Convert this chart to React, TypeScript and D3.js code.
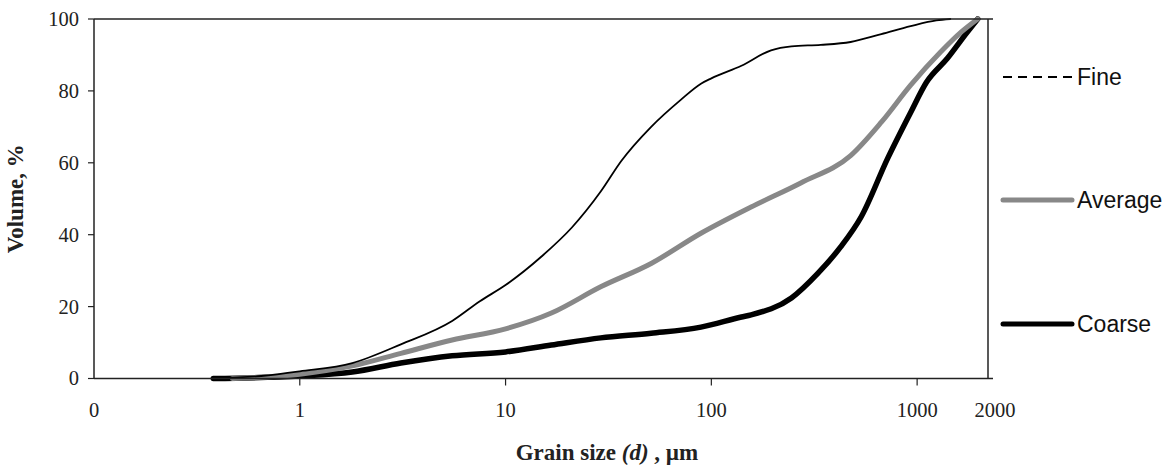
import * as d3 from 'd3';

// Grain size distribution curves (cumulative volume %)
const FINE_SIZE = [0.38, 0.65, 1, 1.8, 3.1, 5.5, 7.5, 10, 15, 21, 29, 36.5, 51, 71, 89, 100, 140, 195, 245, 340, 475, 670, 930, 1240, 1450];
const FINE_VOL = [0, 0.7, 2, 4.3, 9.5, 16, 21.5, 26, 34, 42, 52, 60.5, 70, 77.5, 82, 83.5, 87, 91.3, 92.4, 92.8, 93.6, 95.8, 98, 99.6, 100];

const AVG_SIZE = [0.47, 1, 1.8, 3.1, 5.5, 10, 16.7, 29, 51, 89, 156, 272, 475, 670, 930, 1300, 1640, 1970];
const AVG_VOL = [0, 1.2, 3.5, 7, 10.7, 13.8, 18.2, 25.5, 32, 40.4, 47.7, 54.4, 62, 71.3, 81.6, 90.8, 96.4, 100];

const COARSE_SIZE = [0.38, 1, 1.8, 3.1, 5.5, 10, 16.7, 29, 51, 89, 140, 156, 245, 330, 425, 535, 720, 930, 1110, 1400, 1750, 1970];
const COARSE_VOL = [0, 0.7, 1.8, 4.3, 6.3, 7.4, 9.3, 11.3, 12.6, 14.3, 17.1, 17.7, 22.4, 29.3, 36.6, 45, 61.3, 74, 82.4, 89, 96.3, 100];

const X_TICKS = [0.1, 1, 10, 100, 1000];
const X_TICK_LABELS = ['0', '1', '10', '100', '1000'];
const X_END_LABEL = '2000';
const Y_TICKS = [0, 20, 40, 60, 80, 100];

const X_MIN = 0.1;
const X_MAX = 2210;

const SERIES = [
  { name: 'Fine', sizes: FINE_SIZE, vols: FINE_VOL, color: '#000', width: 1.8 },
  { name: 'Average', sizes: AVG_SIZE, vols: AVG_VOL, color: '#888', width: 5 },
  { name: 'Coarse', sizes: COARSE_SIZE, vols: COARSE_VOL, color: '#000', width: 5.5 },
];

export default function App() {
  const width = 1167;
  const height = 465;
  const margin = { top: 19, right: 179, bottom: 86.5, left: 94 };
  const innerWidth = width - margin.left - margin.right;
  const innerHeight = height - margin.top - margin.bottom;

  const xScale = d3.scaleLog().domain([X_MIN, X_MAX]).range([0, innerWidth]);
  const yScale = d3.scaleLinear().domain([0, 100]).range([innerHeight, 0]);

  const line = d3
    .line<[number, number]>()
    .x((d) => xScale(d[0]))
    .y((d) => yScale(d[1]))
    .curve(d3.curveMonotoneX);

  const axisColor = '#222';
  const serif = '"Liberation Serif", "Times New Roman", serif';
  const sans = '"Liberation Sans", Arial, sans-serif';

  // legend rows (y positions in px)
  const legendRows = [
    { s: SERIES[0], y: 77, dash: '9,6' },
    { s: SERIES[1], y: 200, dash: undefined },
    { s: SERIES[2], y: 324, dash: undefined },
  ];

  return (
    <svg
      width={width}
      height={height}
      style={{ position: 'absolute', left: 0, top: 0, background: '#fff' }}
    >
      <g transform={`translate(${margin.left}, ${margin.top})`}>
        {/* data lines */}
        {SERIES.slice()
          .reverse()
          .map((s) => (
            <path
              key={s.name}
              d={line(s.sizes.map((v, i) => [v, s.vols[i]] as [number, number])) || ''}
              fill="none"
              stroke={s.color}
              strokeWidth={s.width}
              strokeLinejoin="round"
              strokeLinecap="round"
            />
          ))}

        {/* frame */}
        <line x1={0} x2={innerWidth + 5} y1={0} y2={0} stroke={axisColor} strokeWidth={1.5} />
        <line x1={innerWidth} x2={innerWidth} y1={0} y2={innerHeight} stroke={axisColor} strokeWidth={1.5} />
        <line x1={0} x2={0} y1={0} y2={innerHeight} stroke={axisColor} strokeWidth={1.5} />
        <line x1={0} x2={innerWidth + 5} y1={innerHeight} y2={innerHeight} stroke={axisColor} strokeWidth={1.5} />

        {/* y axis */}
        {Y_TICKS.map((t) => (
          <g key={t} transform={`translate(0, ${yScale(t)})`}>
            <line x1={-6} x2={0} stroke={axisColor} strokeWidth={1.2} />
            <text x={-15} dy="0.34em" textAnchor="end" fontFamily={serif} fontSize={20.5} fill="#222">
              {t}
            </text>
          </g>
        ))}

        {/* x axis */}
        {X_TICKS.map((t, i) => (
          <g key={t} transform={`translate(${xScale(t)}, ${innerHeight})`}>
            {i > 0 && <line y1={0} y2={7} stroke={axisColor} strokeWidth={1.2} />}
            <text y={38} textAnchor="middle" fontFamily={serif} fontSize={20.5} fill="#222">
              {X_TICK_LABELS[i]}
            </text>
          </g>
        ))}
        <text
          x={xScale(X_MAX) + 7}
          y={innerHeight + 38}
          textAnchor="middle"
          fontFamily={serif}
          fontSize={20.5}
          fill="#222"
        >
          {X_END_LABEL}
        </text>

        {/* axis titles */}
        <text
          transform={`translate(-71, ${innerHeight / 2}) rotate(-90)`}
          textAnchor="middle"
          fontFamily={serif}
          fontSize={23}
          fontWeight="bold"
          fill="#222"
        >
          Volume, %
        </text>
        <text
          x={513}
          y={innerHeight + 81}
          textAnchor="middle"
          fontFamily={serif}
          fontSize={23}
          fontWeight="bold"
          fill="#222"
        >
          Grain size <tspan fontStyle="italic">(d)</tspan> , µm
        </text>
      </g>

      {/* legend */}
      {legendRows.map(({ s, y, dash }) => (
        <g key={s.name}>
          <line
            x1={1003}
            x2={1072}
            y1={y}
            y2={y}
            stroke={s.color}
            strokeWidth={s.name === 'Fine' ? 2 : 5}
            strokeDasharray={dash}
            strokeLinecap={dash ? 'butt' : 'round'}
          />
          <text x={1077} y={y + 8} fontFamily={sans} fontSize={23} fill="#111">
            {s.name}
          </text>
        </g>
      ))}
    </svg>
  );
}
